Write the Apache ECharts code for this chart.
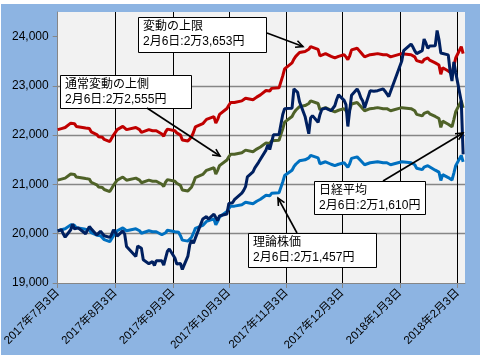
<!DOCTYPE html>
<html><head><meta charset="utf-8">
<script src="https://cdn.jsdelivr.net/npm/echarts@6/dist/echarts.min.js"></script>
<style>
html,body{margin:0;padding:0;background:#fff}
#bg{position:absolute;left:1px;top:4px;width:479px;height:351px;background:#8DB4E2}
#c{position:absolute;left:0;top:0;width:480px;height:360px}
</style>
</head><body><div id="bg"></div><div id="c"></div>
<script>
// Calendar range of the date axis and Tokyo market holidays in it
const startDate = '2017-07-03';
const endDate = '2018-02-07';
const lastTradingDay = '2018-02-06';
const holidays = ['2017-07-17','2017-08-11','2017-09-18','2017-10-09','2017-11-03','2017-11-23','2018-01-01','2018-01-02','2018-01-03','2018-01-08'];
const yTicks = [19000, 20000, 21000, 22000, 23000, 24000];

// 日経平均 (one value per trading day)
const nikkei = [20056,20032,20082,19994,19929,20081,20195,20098,20100,20119,20000,20021,20145,20100,19976,19955,20050,20080,19960,19925,
19986,20080,20029,19952,20056,19996,19739,19730,19537,19753,19729,19703,19470,19393,19384,19435,19354,19453,19450,19363,19507,19646,
19691,19508,19386,19358,19397,19275,19546,19777,19866,19807,19910,20299,20310,20347,20296,20398,20330,20267,20363,20356,
20401,20614,20627,20629,20691,20824,20881,20955,21155,21256,21336,21363,21449,21458,21697,21805,21708,21740,22008,22012,22012,
22420,22539,22548,22938,22914,22869,22681,22381,22380,22028,22351,22397,22262,22416,22523,22551,22496,22486,22597,22725,
22819,22707,22622,22177,22498,22811,22939,22866,22758,22694,22553,22902,22868,22892,22866,22903,22939,22893,22911,22784,22765,
23506,23715,23850,23788,23710,23654,23715,23952,23868,23763,23808,23816,24124,23941,23669,23632,23629,23292,23098,
23486,23275,22682,21610];

// 理論株価
const theory = [20060,20090,20080,20110,20100,20180,20200,20170,20120,20130,20090,20060,20080,20020,19970,19930,19960,19920,19880,19840,
19900,19960,20010,20060,20120,20100,20060,20050,20100,20130,20060,20010,20000,20060,20080,20040,20020,20040,19980,19940,20020,20070,
20080,20040,20000,20030,19960,19870,19850,19880,19930,20010,20110,20170,20200,20250,20260,20300,20180,20250,20340,20360,
20450,20510,20560,20570,20560,20590,20600,20640,20620,20610,20630,20660,20680,20700,20780,20800,20770,20820,20790,20830,20860,
21050,21180,21290,21360,21410,21440,21480,21500,21480,21540,21590,21620,21540,21420,21440,21460,21410,21400,21380,21390,
21410,21440,21400,21350,21420,21530,21560,21520,21480,21440,21400,21440,21430,21450,21440,21460,21440,21420,21440,21410,21400,
21460,21470,21440,21450,21400,21330,21300,21350,21320,21380,21340,21290,21300,21250,21080,21200,21140,21110,21090,
21230,21380,21590,21457];

// 通常変動の上側
const upperNormal = [21087,21119,21108,21140,21129,21213,21234,21203,21150,21161,21119,21087,21108,21045,20992,20950,20982,20940,20898,20856,
20919,20982,21035,21087,21150,21129,21087,21077,21129,21161,21087,21035,21024,21087,21108,21066,21045,21066,21003,20961,21045,21098,
21108,21066,21024,21056,20982,20887,20866,20898,20950,21035,21140,21203,21234,21287,21297,21339,21213,21287,21381,21402,
21497,21560,21613,21623,21613,21644,21655,21697,21676,21665,21686,21718,21739,21760,21844,21865,21833,21886,21854,21896,21928,
22128,22264,22380,22454,22506,22538,22580,22601,22580,22643,22695,22727,22643,22517,22538,22559,22506,22496,22475,22485,
22506,22538,22496,22443,22517,22632,22664,22622,22580,22538,22496,22538,22527,22548,22538,22559,22538,22517,22538,22506,22496,
22559,22569,22538,22548,22496,22422,22391,22443,22412,22475,22433,22380,22391,22338,22159,22285,22222,22191,22170,
22317,22475,22695,22555];

// 変動の上限
const upperLimit = [22112,22145,22134,22167,22156,22244,22266,22233,22178,22189,22145,22112,22134,22068,22013,21969,22002,21958,21914,21870,
21936,22002,22057,22112,22178,22156,22112,22101,22156,22189,22112,22057,22046,22112,22134,22090,22068,22090,22024,21980,22068,22123,
22134,22090,22046,22079,22002,21903,21880,21914,21969,22057,22167,22233,22266,22321,22332,22377,22244,22321,22421,22443,
22542,22608,22663,22674,22663,22696,22707,22751,22729,22718,22740,22773,22796,22818,22906,22928,22895,22950,22917,22961,22994,
23203,23347,23468,23545,23600,23633,23677,23699,23677,23743,23798,23831,23743,23611,23633,23655,23600,23589,23567,23578,
23600,23633,23589,23534,23611,23732,23765,23721,23677,23633,23589,23633,23622,23644,23633,23655,23633,23611,23633,23600,23589,
23655,23666,23633,23644,23589,23512,23479,23534,23501,23567,23523,23468,23479,23424,23236,23368,23302,23269,23247,
23401,23567,23798,23653];

// Annotation texts
const notes = [
  {title: '変動の上限', text: '2月6日:2万3,653円'},
  {title: '通常変動の上側', text: '2月6日:2万2,555円'},
  {title: '日経平均', text: '2月6日:2万1,610円'},
  {title: '理論株価', text: '2月6日:2万1,457円'}
];

function ymd(t){const d=new Date(t);return d.getUTCFullYear()+'-'+String(d.getUTCMonth()+1).padStart(2,'0')+'-'+String(d.getUTCDate()).padStart(2,'0');}
const days=[];
for(let t=Date.parse(startDate+'T00:00:00Z'); t<=Date.parse(endDate+'T00:00:00Z'); t+=86400000) days.push(ymd(t));
const trading = days.filter(s=>{const wd=new Date(s+'T00:00:00Z').getUTCDay();return wd>0&&wd<6&&!holidays.includes(s)&&s<=lastTradingDay;});
function spread(vals){const m={};trading.forEach((d,i)=>{m[d]=vals[i];});return days.map(d=>(d in m)?m[d]:null);}
const isTick=(idx,val)=>val.slice(8)==='03';
const FONT='"Liberation Sans","Noto Sans CJK JP",sans-serif';

const chart=echarts.init(document.getElementById('c'),null,{renderer:'canvas'});
function line(name,vals,color){
  return {name,type:'line',data:spread(vals),connectNulls:true,showSymbol:false,symbol:'none',
    lineStyle:{color,width:3},itemStyle:{color},animation:false};
}
// annotation layout (pixels)
const boxes=[
  {x:138,y:17,w:128,h:35,arrow:[267,33,303,46.5]},
  {x:60,y:75,w:131,h:33,arrow:[147,108,220,156]},
  {x:314,y:181,w:111,h:33,arrow:[383,181,463,133]},
  {x:248,y:233,w:128,h:34,arrow:[297,233,278,198]}
];
const graphics=[];
boxes.forEach((b,i)=>{
  graphics.push({type:'rect',shape:{x:b.x+0.5,y:b.y+0.5,width:b.w,height:b.h},style:{fill:'#fff',stroke:'#000',lineWidth:1},z:100});
  graphics.push({type:'text',x:b.x+5,y:b.y+9.5,style:{text:notes[i].title,fontSize:12,fontFamily:FONT,fill:'#000',verticalAlign:'middle'},z:101});
  graphics.push({type:'text',x:b.x+5,y:b.y+24.5,style:{text:notes[i].text,fontSize:12,fontFamily:FONT,fill:'#000',verticalAlign:'middle'},z:101});
  const [x1,y1,x2,y2]=b.arrow;
  const ang=Math.atan2(y2-y1,x2-x1),L=8,a=0.45;
  graphics.push({type:'line',shape:{x1,y1,x2,y2},style:{stroke:'#000',lineWidth:1.6},z:100});
  graphics.push({type:'polyline',shape:{points:[[x2-L*Math.cos(ang-a),y2-L*Math.sin(ang-a)],[x2,y2],[x2-L*Math.cos(ang+a),y2-L*Math.sin(ang+a)]]},style:{stroke:'#000',lineWidth:1.6,fill:null},z:100});
});

chart.setOption({
  animation:false,
  backgroundColor:'transparent',
  grid:{left:55,right:15,top:12,bottom:77,show:true,backgroundColor:'#F2F2F2',borderWidth:0},
  xAxis:{type:'category',data:days,boundaryGap:false,
    axisLine:{show:true,lineStyle:{color:'#868686',width:1}},
    axisTick:{show:true,interval:isTick,length:5,lineStyle:{color:'#868686'}},
    axisLabel:{interval:isTick,rotate:45,margin:8,fontSize:11.5,fontFamily:FONT,color:'#000',
      formatter:v=>{const p=v.split('-');return p[0]+'年'+(+p[1])+'月'+(+p[2])+'日';}},
    splitLine:{show:true,interval:(idx,val)=>idx>0&&isTick(idx,val),lineStyle:{color:'#000',width:1}}
  },
  yAxis:{type:'value',min:19000,max:24500,interval:1000,
    axisLine:{show:true,lineStyle:{color:'#868686',width:1}},
    axisTick:{show:true,length:5,lineStyle:{color:'#868686'},customValues:yTicks},
    axisLabel:{margin:9,fontSize:12,fontFamily:FONT,color:'#000',customValues:yTicks,
      formatter:v=>v.toLocaleString('en-US')},
    splitLine:{show:true,showMaxLine:false,showMinLine:false,lineStyle:{color:'#868686',width:1.3}}
  },
  series:[
    line('変動の上限',upperLimit,'#C00000'),
    line('通常変動の上側',upperNormal,'#4F6228'),
    line('理論株価',theory,'#0070C0'),
    line('日経平均',nikkei,'#002060')
  ],
  graphic:graphics
});
</script>
</body></html>
